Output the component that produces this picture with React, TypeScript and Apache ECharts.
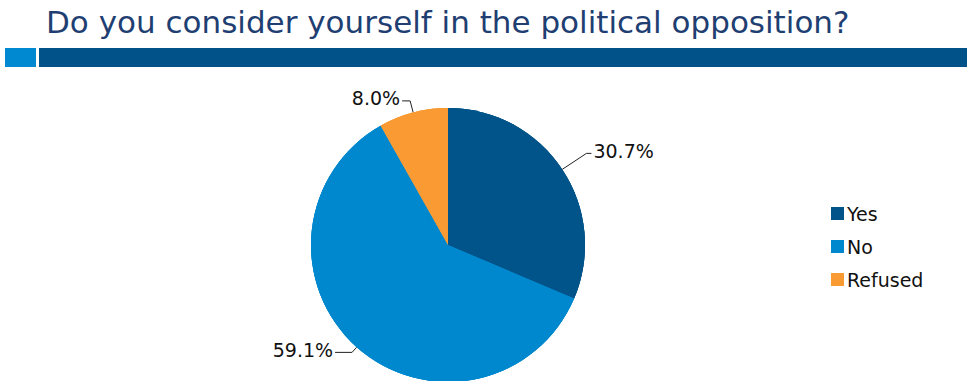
import React, { useEffect, useRef } from "react";
import * as echarts from "echarts";

const categories = ["Yes", "No", "Refused"];
const values = [30.7, 59.1, 8.0];
const colors = ["#00548A", "#0088CF", "#F99A33"];
const titleText = "Do you consider yourself in the political opposition?";

// label line lengths per slice: [first segment, horizontal segment]
const lineLens = [
  [29, 5],
  [7, 17],
  [12, 8],
];

export default function App() {
  const ref = useRef<HTMLDivElement>(null);
  useEffect(() => {
    if (!ref.current) return;
    const chart = echarts.init(ref.current, undefined, { renderer: "svg" });
    const pieData = categories.map((c, i) => ({
      name: c,
      value: values[i],
      itemStyle: { color: colors[i] },
    }));
    const series = lineLens.map((len, k) => ({
      type: "pie",
      center: [448, 245],
      radius: 137,
      startAngle: 90,
      clockwise: true,
      silent: true,
      avoidLabelOverlap: false,
      data: pieData.map((d, i) => ({
        ...d,
        label: { show: i === k },
        labelLine: { show: i === k },
      })),
      label: {
        show: true,
        formatter: (p: any) => "{v|" + p.value.toFixed(1) + "%}\n{s|}",
        distanceToLabelLine: 2,
        rich: {
          v: { fontFamily: "DejaVu Sans", fontSize: 19, color: "#111", height: 19, lineHeight: 19 },
          s: { height: 5, lineHeight: 5, fontSize: 1 },
        },
      },
      labelLine: { show: true, length: len[0], length2: len[1], lineStyle: { color: "#222", width: 1 } },
    }));
    chart.setOption({
      animation: false,
      backgroundColor: "#ffffff",
      title: {
        text: titleText,
        left: 41,
        top: 1,
        textStyle: { fontFamily: "DejaVu Sans", fontWeight: "normal", fontSize: 31, color: "#1F3F73" },
      },
      graphic: [
        { type: "rect", shape: { x: 5, y: 48, width: 31, height: 19 }, style: { fill: "#0089D0" } },
        { type: "rect", shape: { x: 39, y: 48, width: 928, height: 19 }, style: { fill: "#005288" } },
      ],
      legend: {
        orient: "vertical",
        left: 826,
        top: 199,
        itemWidth: 13,
        itemHeight: 13,
        itemGap: 14,
        icon: "rect",
        data: categories,
        textStyle: { fontFamily: "DejaVu Sans", fontSize: 19, color: "#111", padding: [0, 0, 0, -2] },
      },
      series,
    });
    return () => chart.dispose();
  }, []);
  return <div ref={ref} style={{ position: "fixed", left: 0, top: 0, width: 967, height: 381 }} />;
}
